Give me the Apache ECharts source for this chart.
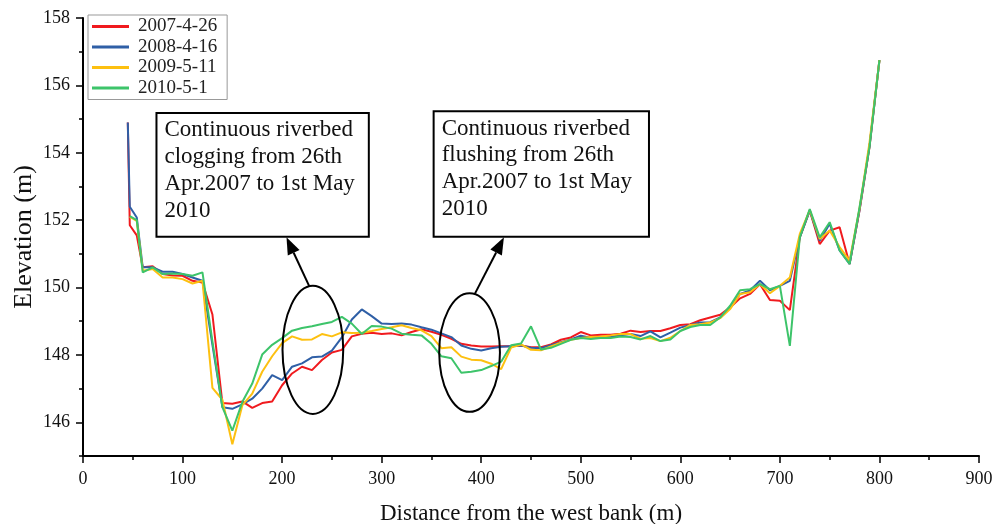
<!DOCTYPE html>
<html><head><meta charset="utf-8">
<script src="https://cdn.jsdelivr.net/npm/echarts@6/dist/echarts.min.js"></script>
<style>html,body{margin:0;padding:0;background:#fff}#c{width:1007px;height:524px}</style>
</head><body><div id="c"></div>
<script>
const seriesNames = ['2007-4-26', '2008-4-16', '2009-5-11', '2010-5-1'];
const distances = [45, 47, 54, 60, 70, 80, 90, 100, 110, 120, 130, 140, 150, 160, 170, 180, 190, 200, 210, 220, 230, 240, 250, 260, 270, 280, 290, 300, 310, 320, 330, 340, 350, 360, 370, 380, 390, 400, 410, 420, 430, 440, 450, 460, 470, 480, 490, 500, 510, 520, 530, 540, 550, 560, 570, 580, 590, 600, 610, 620, 630, 640, 650, 660, 670, 680, 690, 700, 710, 720, 730, 740, 750, 760, 770, 780, 790, 800];
const elev2007 = [154.9, 151.85, 151.55, 150.6, 150.63, 150.4, 150.36, 150.35, 150.2, 150.15, 149.2, 146.57, 146.55, 146.62, 146.43, 146.57, 146.62, 147.1, 147.45, 147.65, 147.55, 147.85, 148.07, 148.15, 148.55, 148.63, 148.66, 148.62, 148.64, 148.58, 148.68, 148.76, 148.69, 148.6, 148.48, 148.33, 148.28, 148.25, 148.25, 148.26, 148.26, 148.28, 148.23, 148.23, 148.31, 148.45, 148.52, 148.68, 148.58, 148.6, 148.6, 148.63, 148.72, 148.68, 148.71, 148.71, 148.79, 148.89, 148.91, 149.03, 149.11, 149.19, 149.41, 149.68, 149.81, 150.1, 149.63, 149.61, 149.33, 151.49, 152.29, 151.29, 151.69, 151.79, 150.7, 152.29, 154.17, 156.75];
const elev2008 = [154.9, 152.4, 152.08, 150.6, 150.6, 150.47, 150.47, 150.4, 150.3, 150.2, 148.3, 146.45, 146.4, 146.53, 146.7, 147.0, 147.4, 147.25, 147.65, 147.75, 147.93, 147.95, 148.13, 148.52, 149.05, 149.35, 149.15, 148.93, 148.92, 148.93, 148.9, 148.82, 148.75, 148.64, 148.53, 148.28, 148.18, 148.13, 148.2, 148.24, 148.26, 148.28, 148.21, 148.2, 148.29, 148.38, 148.46, 148.57, 148.51, 148.52, 148.55, 148.58, 148.62, 148.56, 148.7, 148.52, 148.66, 148.81, 148.89, 148.96, 148.97, 149.11, 149.41, 149.81, 149.91, 150.2, 149.92, 150.05, 150.2, 151.49, 152.28, 151.39, 151.89, 151.1, 150.7, 152.3, 154.2, 156.75];
const elev2009 = [null, 152.1, 151.98, 150.5, 150.55, 150.3, 150.3, 150.25, 150.12, 150.2, 147.02, 146.67, 145.35, 146.5, 146.85, 147.5, 147.96, 148.35, 148.55, 148.45, 148.46, 148.62, 148.55, 148.67, 148.65, 148.66, 148.71, 148.77, 148.82, 148.88, 148.8, 148.73, 148.56, 148.2, 148.23, 147.95, 147.86, 147.84, 147.74, 147.58, 148.22, 148.31, 148.15, 148.14, 148.25, 148.36, 148.45, 148.5, 148.53, 148.55, 148.58, 148.62, 148.62, 148.48, 148.5, 148.41, 148.51, 148.71, 148.89, 148.91, 148.96, 149.09, 149.36, 149.81, 149.86, 150.1, 149.83, 150.05, 150.3, 151.59, 152.3, 151.44, 151.69, 151.2, 150.8, 152.35, 154.3, 156.75];
const elev2010 = [null, 152.12, 152.0, 150.45, 150.6, 150.4, 150.42, 150.4, 150.35, 150.45, 148.4, 146.45, 145.75, 146.6, 147.15, 148.01, 148.3, 148.5, 148.72, 148.8, 148.85, 148.92, 148.98, 149.13, 148.93, 148.62, 148.86, 148.84, 148.78, 148.63, 148.6, 148.58, 148.33, 147.96, 147.9, 147.47, 147.5, 147.55, 147.67, 147.8, 148.29, 148.34, 148.85, 148.16, 148.21, 148.33, 148.45, 148.5, 148.47, 148.5, 148.5, 148.55, 148.53, 148.46, 148.56, 148.41, 148.46, 148.71, 148.83, 148.89, 148.89, 149.11, 149.46, 149.92, 149.95, 150.1, 149.95, 150.05, 148.27, 151.49, 152.33, 151.49, 151.94, 151.1, 150.7, 152.38, 154.17, 156.75];
const seriesColors = ['#f01a1e', '#2f5fa6', '#fdc010', '#3dc46a'];
const yTickValues = [145, 146, 147, 148, 149, 150, 151, 152, 153, 154, 155, 156, 157, 158];
const yLabelValues = [146, 148, 150, 152, 154, 156, 158];

// annotations (in data coordinates)
const noteTexts = [
  ['Continuous riverbed', 'clogging from 26th', 'Apr.2007 to 1st May', '2010'],
  ['Continuous riverbed', 'flushing from 26th', 'Apr.2007 to 1st May', '2010']
];
const noteBoxCorners = [[[73.8, 155.18], [287.1, 151.51]], [[352.2, 155.23], [568.5, 151.51]]];
const noteEllipses = [[230.9, 148.15, 30.5, 1.9], [388.3, 148.07, 30.5, 1.76]];
const noteArrows = [[[227.1, 150.05], [204.4, 151.49]], [[393.7, 149.82], [422.8, 151.49]]];

const FONT = '"Liberation Serif", "Times New Roman", serif';
const allValues = [elev2007, elev2008, elev2009, elev2010];

const chart = echarts.init(document.getElementById('c'), null, {renderer: 'canvas'});
const option = {
  backgroundColor: '#ffffff',
  animation: false,
  textStyle: {fontFamily: FONT},
  grid: {left: 83, right: 28, top: 18, bottom: 68, containLabel: false, outerBoundsMode: 'none'},
  legend: {
    orient: 'vertical', left: 88, top: 15,
    data: seriesNames,
    icon: 'rect', itemWidth: 37, itemHeight: 3, itemGap: 1.5,
    padding: [2, 10, 2, 4],
    borderColor: '#999', borderWidth: 1, backgroundColor: '#fff',
    textStyle: {fontFamily: FONT, fontSize: 19, lineHeight: 19, color: '#222', padding: [0, 0, 0, 4]}
  },
  xAxis: {
    type: 'value', min: 0, max: 900, interval: 100,
    name: 'Distance from the west bank (m)', nameLocation: 'middle', nameGap: 46, nameMoveOverlap: false,
    nameTextStyle: {fontFamily: FONT, fontSize: 23, color: '#111'},
    axisLine: {show: true, onZero: false, lineStyle: {color: '#000', width: 2}},
    axisTick: {show: true, length: 7, lineStyle: {color: '#000', width: 1.5}},
    minorTick: {show: true, splitNumber: 2, length: 4, lineStyle: {color: '#000', width: 1.5}},
    axisLabel: {fontFamily: FONT, fontSize: 18, margin: 14, color: '#111'},
    splitLine: {show: false}
  },
  yAxis: [{
    type: 'value', min: 145, max: 158,
    name: 'Elevation (m)', nameLocation: 'middle', nameGap: 46, nameMoveOverlap: false,
    nameTextStyle: {fontFamily: FONT, fontSize: 26, color: '#111'},
    axisLine: {show: true, onZero: false, lineStyle: {color: '#000', width: 2}},
    axisTick: {show: true, customValues: yTickValues, length: 4, lineStyle: {color: '#000', width: 1.5}},
    axisLabel: {customValues: yLabelValues, fontFamily: FONT, fontSize: 18, margin: 13, color: '#111'},
    splitLine: {show: false}
  }, {
    type: 'value', min: 145, max: 158, position: 'left', offset: 0,
    axisLine: {show: false},
    axisTick: {show: true, customValues: yLabelValues, length: 7, lineStyle: {color: '#000', width: 1.5}},
    axisLabel: {show: false},
    splitLine: {show: false}
  }],
  series: seriesNames.map((name, k) => ({
    name: name, type: 'line', yAxisIndex: 0,
    data: distances.map((d, i) => [d, allValues[k][i]]),
    symbol: 'none', showSymbol: false, connectNulls: false,
    color: seriesColors[k],
    lineStyle: {color: seriesColors[k], width: 2},
    z: 2 + k
  }))
};
chart.setOption(option);

function px(p) { return chart.convertToPixel({gridIndex: 0}, p); }
const g = [];
noteBoxCorners.forEach((c, i) => {
  const a = px(c[0]), b = px(c[1]);
  g.push({type: 'rect', shape: {x: a[0], y: a[1], width: b[0] - a[0], height: b[1] - a[1]},
    style: {fill: '#fff', stroke: '#000', lineWidth: 2}, z: 100});
  g.push({type: 'text', x: a[0] + 8, y: a[1] + 4, z: 101,
    style: {text: noteTexts[i].join('\n'), font: '23px ' + FONT, lineHeight: 26.7, fill: '#111', textVerticalAlign: 'top', verticalAlign: 'top'}});
});
noteEllipses.forEach(e => {
  const c = px([e[0], e[1]]), r = px([e[0] + e[2], e[1] + e[3]]);
  g.push({type: 'ellipse', shape: {cx: c[0], cy: c[1], rx: Math.abs(r[0] - c[0]), ry: Math.abs(r[1] - c[1])},
    style: {fill: 'none', stroke: '#000', lineWidth: 2}, z: 100});
});
noteArrows.forEach(ar => {
  const s = px(ar[0]), t = px(ar[1]);
  const dx = t[0] - s[0], dy = t[1] - s[1], L = Math.hypot(dx, dy);
  const ux = dx / L, uy = dy / L, hl = 17, hw = 6.5;
  const bx = t[0] - ux * hl, by = t[1] - uy * hl;
  g.push({type: 'line', shape: {x1: s[0], y1: s[1], x2: bx, y2: by}, style: {stroke: '#000', lineWidth: 2}, z: 100});
  g.push({type: 'polygon', shape: {points: [[t[0], t[1]], [bx - uy * hw, by + ux * hw], [bx + uy * hw, by - ux * hw]]},
    style: {fill: '#000'}, z: 100});
});
chart.setOption({graphic: g});
</script></body></html>
